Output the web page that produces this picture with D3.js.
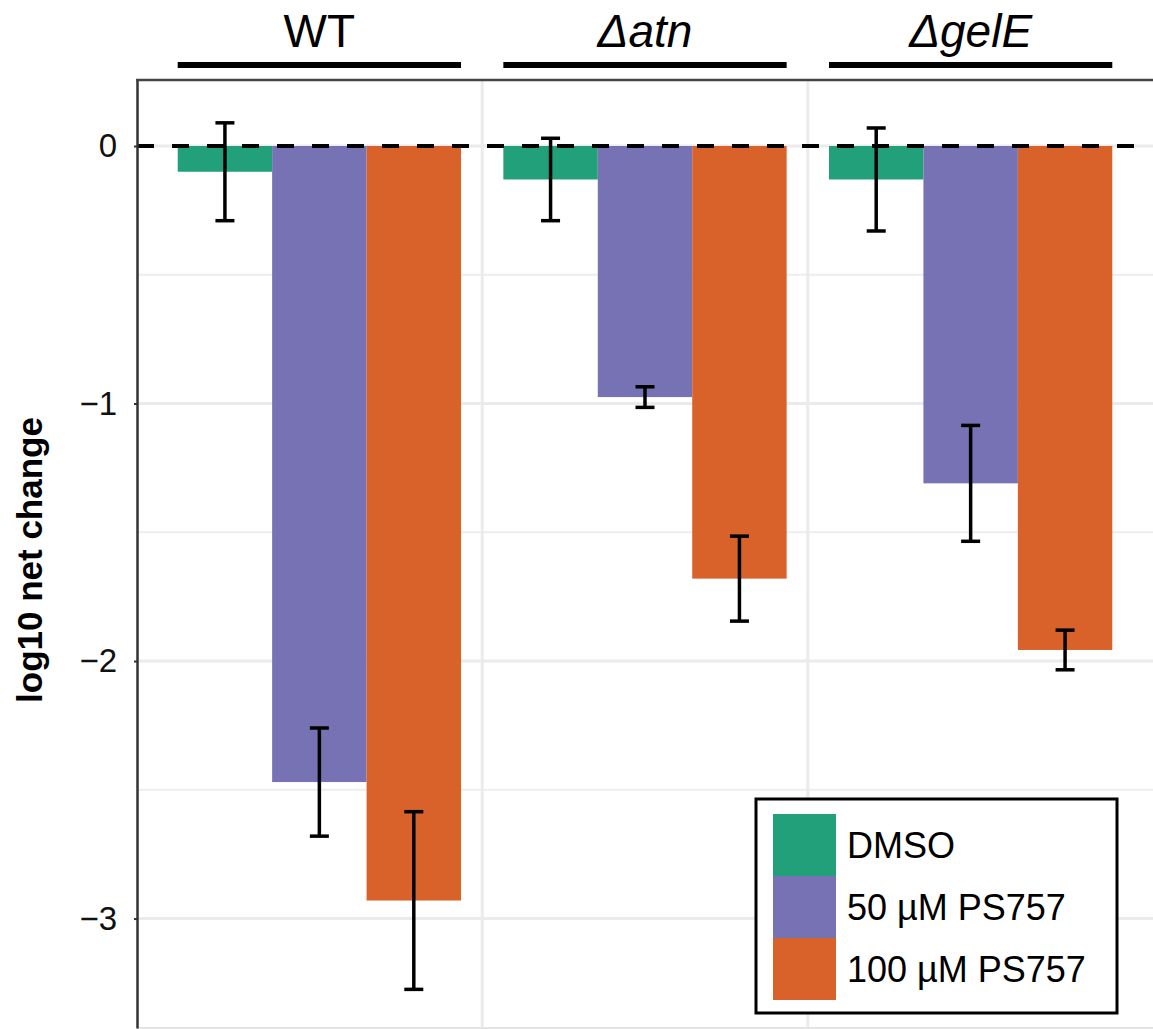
<!DOCTYPE html>
<html>
<head>
  <meta charset="utf-8">
  <title>log10 net change</title>
  <script type="text/javascript" src="https://cdn.jsdelivr.net/npm/d3@7"></script>
  <style type="text/css">
    body { margin: 0; background: #fff; }
    svg { display: block; font-family: "Liberation Sans", Arial, Helvetica, sans-serif; }
  </style>
</head>
<body>
  <div id="chart"></div>

  <script type="text/javascript">
    // data
    const groups = ["WT", "Δatn", "ΔgelE"];
    const italicGroup = [false, true, true];
    const treatments = ["DMSO", "50 µM PS757", "100 µM PS757"];
    const colors = ["#22A07A", "#7672B4", "#D9622A"];

    const meanDMSO = [-0.10, -0.13, -0.13];
    const mean50 = [-2.47, -0.975, -1.31];
    const mean100 = [-2.93, -1.68, -1.957];

    const sdDMSO = [0.19, 0.16, 0.20];
    const sd50 = [0.21, 0.04, 0.225];
    const sd100 = [0.345, 0.165, 0.077];

    const yTicks = [0, -1, -2, -3];
    const yMinor = [-0.5, -1.5, -2.5];

    const means = [meanDMSO, mean50, mean100];
    const sds = [sdDMSO, sd50, sd100];

    // size
    const w = 1153;
    const h = 1029;
    const panel = { left: 137, top: 80, right: 1153, bottom: 1028 };

    const svg = d3.select("#chart")
      .append("svg")
      .attr("width", w)
      .attr("height", h);

    // x: group positions 1..3, continuous so dodge is easy
    const x = d3.scaleLinear()
      .domain([0.44, 3.56])
      .range([panel.left, panel.right]);
    const dodge = 0.29;

    const y = d3.scaleLinear()
      .domain([0.2563, -3.425])
      .range([panel.top, panel.bottom]);

    // grid
    const grid = svg.append("g");
    grid.selectAll("line.minor")
      .data(yMinor)
      .enter()
      .append("line")
      .attr("x1", panel.left).attr("x2", panel.right)
      .attr("y1", d => y(d)).attr("y2", d => y(d))
      .attr("stroke", "#ededed").attr("stroke-width", 2);
    grid.selectAll("line.major")
      .data(yTicks)
      .enter()
      .append("line")
      .attr("x1", panel.left).attr("x2", panel.right)
      .attr("y1", d => y(d)).attr("y2", d => y(d))
      .attr("stroke", "#ebebeb").attr("stroke-width", 3);
    grid.selectAll("line.vert")
      .data([1.5, 2.5])
      .enter()
      .append("line")
      .attr("x1", d => x(d)).attr("x2", d => x(d))
      .attr("y1", panel.top).attr("y2", panel.bottom)
      .attr("stroke", "#ebebeb").attr("stroke-width", 3);
    // bottom edge
    grid.append("line")
      .attr("x1", panel.left).attr("x2", panel.right)
      .attr("y1", panel.bottom).attr("y2", panel.bottom)
      .attr("stroke", "#e4e4e4").attr("stroke-width", 2);

    // bars
    const bars = [];
    treatments.forEach((t, i) => {
      groups.forEach((g, j) => {
        bars.push({ t: i, g: j, mean: means[i][j], sd: sds[i][j] });
      });
    });

    const bw = x(dodge) - x(0);
    const cx = d => x(d.g + 1 + (d.t - 1) * dodge);

    svg.append("g")
      .selectAll("rect")
      .data(bars)
      .enter()
      .append("rect")
      .attr("x", d => cx(d) - bw / 2)
      .attr("width", bw)
      .attr("y", d => y(Math.max(0, d.mean)))
      .attr("height", d => Math.abs(y(d.mean) - y(0)))
      .attr("fill", d => colors[d.t]);

    // zero line
    svg.append("line")
      .attr("x1", panel.left).attr("x2", panel.right - 12)
      .attr("y1", y(0)).attr("y2", y(0))
      .attr("stroke", "#000").attr("stroke-width", 4)
      .attr("stroke-dasharray", "17,18");

    // error bars
    const eb = svg.append("g")
      .attr("stroke", "#000")
      .attr("stroke-width", 3.5);
    const cap = 9.5;
    eb.selectAll("line.v")
      .data(bars)
      .enter()
      .append("line")
      .attr("x1", d => cx(d)).attr("x2", d => cx(d))
      .attr("y1", d => y(d.mean + d.sd)).attr("y2", d => y(d.mean - d.sd));
    eb.selectAll("line.top")
      .data(bars)
      .enter()
      .append("line")
      .attr("x1", d => cx(d) - cap).attr("x2", d => cx(d) + cap)
      .attr("y1", d => y(d.mean + d.sd)).attr("y2", d => y(d.mean + d.sd));
    eb.selectAll("line.bot")
      .data(bars)
      .enter()
      .append("line")
      .attr("x1", d => cx(d) - cap).attr("x2", d => cx(d) + cap)
      .attr("y1", d => y(d.mean - d.sd)).attr("y2", d => y(d.mean - d.sd));

    // y axis
    const yAxis = svg.append("g")
      .attr("transform", `translate(${panel.left},0)`)
      .call(d3.axisLeft(y).tickValues(yTicks).tickSize(3).tickSizeOuter(0).tickPadding(17).tickFormat(d3.format("d")));
    yAxis.select(".domain").attr("stroke", "#333").attr("stroke-width", 2.5);
    yAxis.selectAll(".tick line").attr("stroke", "#333").attr("stroke-width", 2);
    yAxis.selectAll(".tick text")
      .attr("font-size", 33)
      .attr("font-family", "Liberation Sans, Arial, sans-serif")
      .attr("fill", "#111");

    // top border
    svg.append("line")
      .attr("x1", panel.left - 1).attr("x2", panel.right)
      .attr("y1", panel.top).attr("y2", panel.top)
      .attr("stroke", "#444").attr("stroke-width", 2.5);

    // y title
    svg.append("text")
      .attr("transform", `translate(42,${(panel.top + panel.bottom) / 2 + 6}) rotate(-90)`)
      .attr("text-anchor", "middle")
      .attr("font-size", 35)
      .attr("font-weight", "bold")
      .attr("fill", "#000")
      .text("log10 net change");

    // group labels with bars above
    const strip = svg.append("g");
    groups.forEach((g, j) => {
      const x0 = x(j + 1 - 1.5 * dodge);
      const x1 = x(j + 1 + 1.5 * dodge);
      strip.append("rect")
        .attr("x", x0).attr("width", x1 - x0)
        .attr("y", 62).attr("height", 6)
        .attr("fill", "#000");
      strip.append("text")
        .attr("x", (x0 + x1) / 2)
        .attr("y", 47)
        .attr("text-anchor", "middle")
        .attr("font-size", 46)
        .attr("font-style", italicGroup[j] ? "italic" : "normal")
        .attr("fill", "#000")
        .text(g);
    });

    // legend
    const lg = svg.append("g").attr("transform", "translate(756,799)");
    lg.append("rect")
      .attr("width", 361).attr("height", 214)
      .attr("fill", "#fff")
      .attr("stroke", "#000").attr("stroke-width", 3);
    const keyH = 62;
    treatments.forEach((t, i) => {
      lg.append("rect")
        .attr("x", 17).attr("y", 15 + i * keyH)
        .attr("width", 63).attr("height", keyH)
        .attr("fill", colors[i]);
      lg.append("text")
        .attr("x", 91).attr("y", 15 + i * keyH + keyH / 2)
        .attr("dy", "0.36em")
        .attr("font-size", 36)
        .attr("fill", "#000")
        .text(t);
    });
  </script>
</body>
</html>
